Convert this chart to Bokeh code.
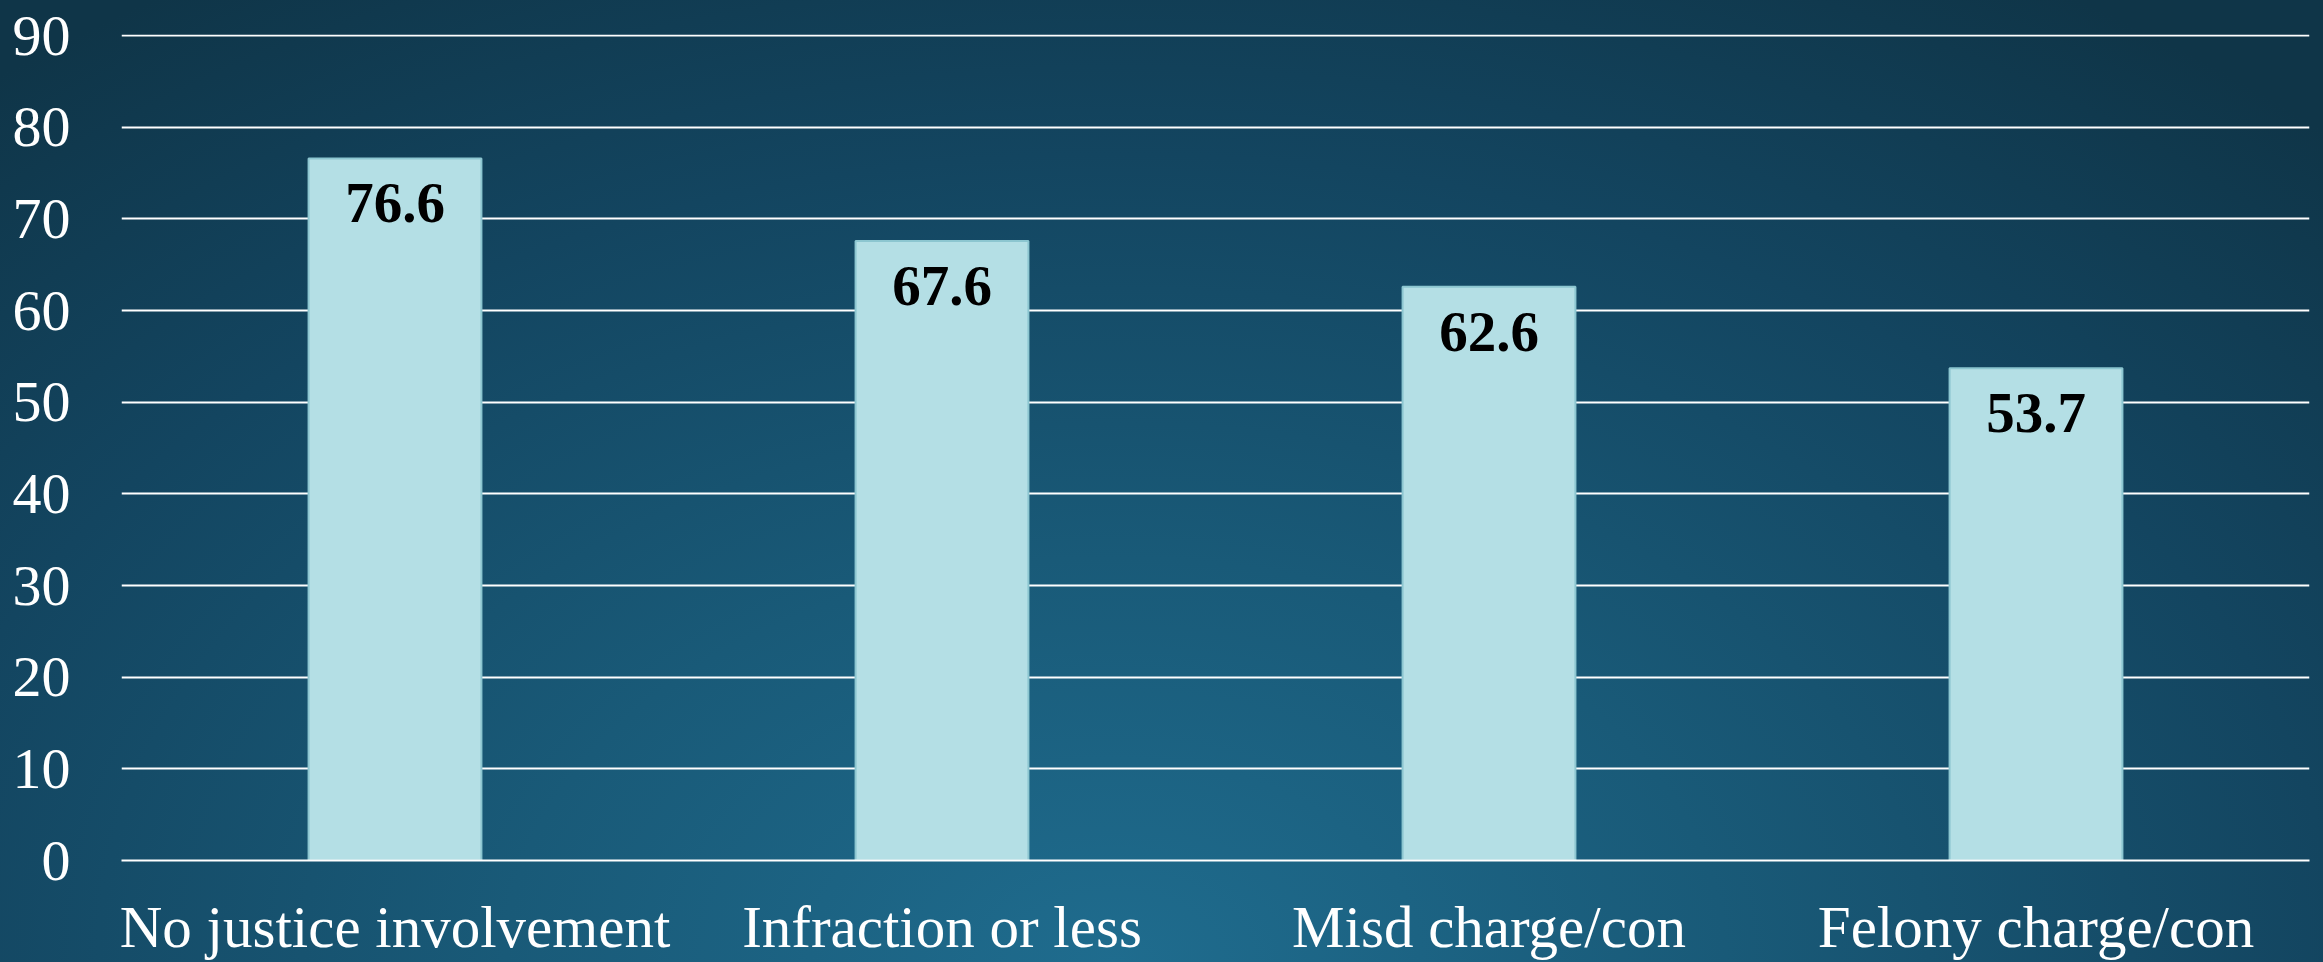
from bokeh.plotting import figure
from bokeh.models import ColumnDataSource, Range1d, InlineStyleSheet, FixedTicker
from bokeh.core.properties import value
from bokeh.embed import file_html
from bokeh.resources import INLINE

categories = ["No justice involvement", "Infraction or less", "Misd charge/con", "Felony charge/con"]
values = [76.6, 67.6, 62.6, 53.7]
value_labels = ["76.6", "67.6", "62.6", "53.7"]
y_ticks = [0, 10, 20, 30, 40, 50, 60, 70, 80, 90]

FONT = "Liberation Serif"

src = ColumnDataSource(dict(cat=categories, val=values, lab=value_labels))

p = figure(x_range=categories, y_range=Range1d(0, 90.12), width=2323, height=962,
           output_backend="svg", toolbar_location=None,
           min_border_left=121, min_border_right=14, min_border_top=34, min_border_bottom=10)

p.stylesheets = [InlineStyleSheet(css=":host { background: radial-gradient(ellipse 75% 120% at 48% 100%, #1f6c8e 0%, #195a78 35%, #134560 70%, #0f3548 100%); }")]
p.background_fill_alpha = 0
p.border_fill_alpha = 0
p.outline_line_color = None

p.vbar(x="cat", top="val", width=0.316, source=src,
       fill_color="#b4dfe5", line_color="#8cc6d0", line_width=2)

p.text(x="cat", y="val", text="lab", source=src, text_align="center",
       text_baseline="alphabetic", y_offset=45,
       text_font=value(FONT), text_font_style="bold", text_font_size="57px",
       text_color="#000000")

p.xgrid.grid_line_color = None
p.ygrid.grid_line_color = "#ffffff"
p.ygrid.grid_line_width = 2
p.ygrid.ticker = FixedTicker(ticks=y_ticks)

p.yaxis.ticker = FixedTicker(ticks=y_ticks)
p.yaxis.axis_line_color = None
p.yaxis.major_tick_line_color = None
p.yaxis.minor_tick_line_color = None
p.yaxis.major_tick_out = 0
p.yaxis.major_tick_in = 0
p.yaxis.major_label_standoff = 51
p.yaxis.major_label_text_font = FONT
p.yaxis.major_label_text_font_size = "58px"
p.yaxis.major_label_text_color = "#ffffff"

p.xaxis.axis_line_color = "#ffffff"
p.xaxis.axis_line_width = 2
p.xaxis.major_tick_line_color = None
p.xaxis.minor_tick_line_color = None
p.xaxis.major_tick_out = 0
p.xaxis.major_tick_in = 0
p.xaxis.major_label_standoff = 33
p.xaxis.major_label_text_font = FONT
p.xaxis.major_label_text_font_size = "59px"
p.xaxis.major_label_text_color = "#ffffff"

open("out.html", "w").write(file_html(p, INLINE))
